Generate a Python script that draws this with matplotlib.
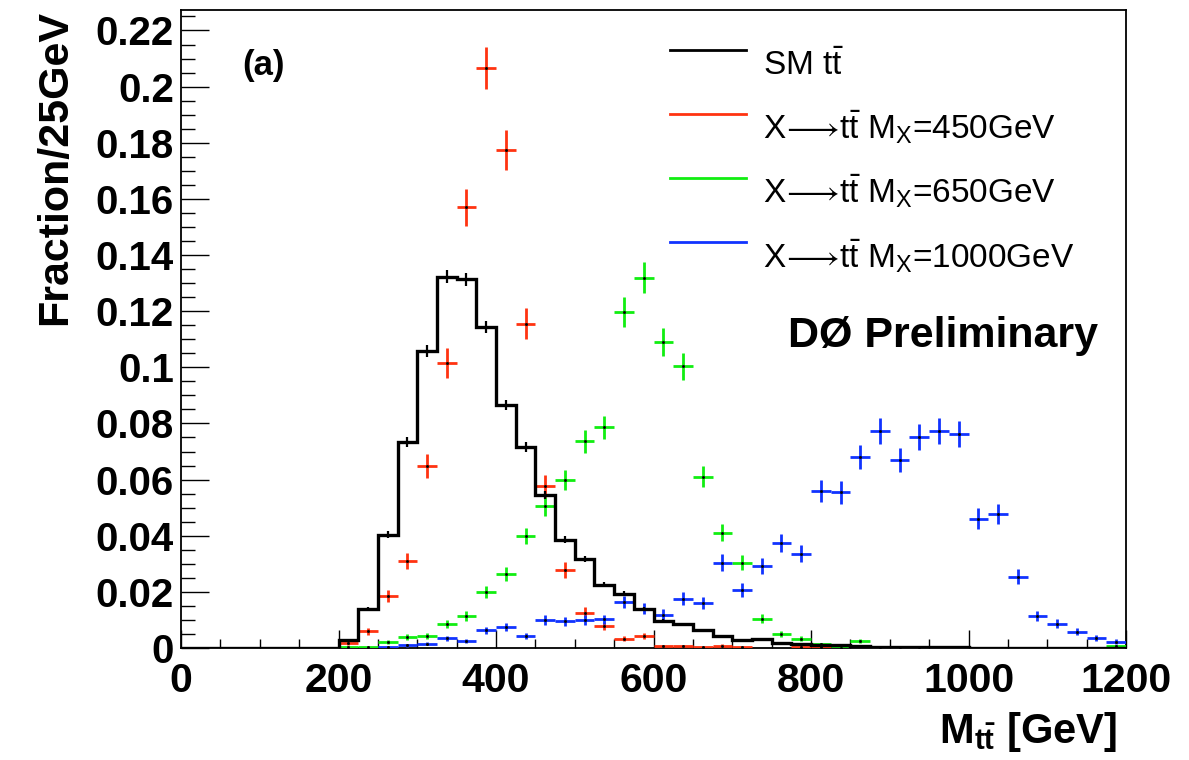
import numpy as np
import matplotlib
matplotlib.use("Agg")
import matplotlib.pyplot as plt
from matplotlib.ticker import MultipleLocator, FuncFormatter
from matplotlib.lines import Line2D

# ─────────────────────────────────────────────
# DATOS (fracción por bin de 25 GeV, 0-1200 GeV)
# ─────────────────────────────────────────────
bin_edges = np.arange(0, 1225, 25)

sm_tt = [0, 0, 0, 0, 0, 0, 0, 0,
         0.0030, 0.0140, 0.0404, 0.0734, 0.1059, 0.1323, 0.1314, 0.1142,
         0.0865, 0.0717, 0.0544, 0.0386, 0.0316, 0.0226, 0.0194, 0.0140,
         0.0096, 0.0084, 0.0063, 0.0042, 0.0030, 0.0033, 0.0019, 0.0015,
         0.0010, 0.0010, 0.0008, 0.0005, 0.0005, 0.0004, 0.0002, 0.0002,
         0.0001, 0.0001, 0.0001, 0.0001, 0, 0, 0, 0.0001]

x450 = [0, 0, 0, 0, 0, 0, 0, 0,
        0.0019, 0.0060, 0.0185, 0.0310, 0.0648, 0.1014, 0.1570, 0.2066,
        0.1774, 0.1156, 0.0576, 0.0277, 0.0126, 0.0078, 0.0033, 0.0043,
        0.0006, 0.0006, 0.0002, 0.0008, 0.0005, 0, 0, 0.0004,
        0.0005, 0, 0, 0, 0, 0, 0, 0,
        0, 0, 0, 0, 0, 0, 0, 0]

x650 = [0, 0, 0, 0, 0, 0, 0, 0,
        0.0002, 0.0002, 0.0021, 0.0039, 0.0043, 0.0087, 0.0114, 0.0200,
        0.0265, 0.0399, 0.0505, 0.0598, 0.0737, 0.0786, 0.1197, 0.1319,
        0.1090, 0.1004, 0.0610, 0.0410, 0.0304, 0.0105, 0.0051, 0.0033,
        0.0013, 0.0001, 0.0025, 0.0003, 0.0002, 0.0003, 0, 0,
        0, 0, 0, 0, 0, 0, 0, 0.0006]

x1000 = [0, 0, 0, 0, 0, 0, 0, 0,
         0, 0, 0.0003, 0.0010, 0.0016, 0.0034, 0.0025, 0.0063,
         0.0075, 0.0042, 0.0100, 0.0095, 0.0100, 0.0102, 0.0164, 0.0140,
         0.0119, 0.0176, 0.0162, 0.0304, 0.0206, 0.0292, 0.0374, 0.0336,
         0.0560, 0.0554, 0.0681, 0.0774, 0.0669, 0.0752, 0.0774, 0.0762,
         0.0461, 0.0477, 0.0253, 0.0114, 0.0086, 0.0058, 0.0036, 0.0023]

# eventos efectivos de cada muestra (error poissoniano sqrt(f/N))
n_sm, n_450, n_650, n_1000 = 25000, 3600, 4400, 3550

arrow = r"$\!{\longrightarrow}\!$"
labels = [r"SM t$\bar{\mathrm{t}}$",
          r"X" + arrow + r"t$\bar{\mathrm{t}}$ M$_{\mathrm{X}}$=450GeV",
          r"X" + arrow + r"t$\bar{\mathrm{t}}$ M$_{\mathrm{X}}$=650GeV",
          r"X" + arrow + r"t$\bar{\mathrm{t}}$ M$_{\mathrm{X}}$=1000GeV"]
colors = ["black", "#ff3311", "#11ee11", "#1133ff"]

# ─────────────────────────────────────────────
# ESTILO
# ─────────────────────────────────────────────
plt.rcParams["font.family"] = ["Liberation Sans", "DejaVu Sans"]
plt.rcParams["mathtext.fontset"] = "custom"
plt.rcParams["mathtext.rm"] = "Liberation Sans"
plt.rcParams["mathtext.it"] = "Liberation Sans:italic"
plt.rcParams["mathtext.bf"] = "Liberation Sans:bold"
plt.rcParams["mathtext.fallback"] = "stixsans"

fig = plt.figure(figsize=(11.89, 7.60), dpi=100)
ax = fig.add_axes([181 / 1189, 1 - 648 / 760, 945 / 1189, 638 / 760])

centers = 0.5 * (bin_edges[:-1] + bin_edges[1:])
half_w = 12.5

# SM: histograma en escalera
sm = np.array(sm_tt)
ax.stairs(sm, bin_edges, color="black", lw=2.4, zorder=5)
m = sm > 0
ax.errorbar(centers[m], sm[m], yerr=np.sqrt(sm[m] / n_sm), fmt="none",
            ecolor="black", elinewidth=1.6, capsize=0, zorder=6)

# señales: cruces de error
for vals, n, col in [(x450, n_450, colors[1]), (x650, n_650, colors[2]),
                     (x1000, n_1000, colors[3])]:
    v = np.array(vals)
    m = v > 0
    ax.errorbar(centers[m], v[m], xerr=half_w, yerr=np.sqrt(v[m] / n),
                fmt="none", ecolor=col, elinewidth=2.0, capsize=0, zorder=4)
    ax.plot(centers[m], v[m], ls="none", marker="s", ms=1.0, color="black", zorder=4)

ax.set_xlim(0, 1200)
ax.set_ylim(0, 0.2273)

ax.xaxis.set_major_locator(MultipleLocator(200))
ax.xaxis.set_minor_locator(MultipleLocator(50))
ax.yaxis.set_major_locator(MultipleLocator(0.02))
ax.yaxis.set_minor_locator(MultipleLocator(0.005))
ax.yaxis.set_major_formatter(FuncFormatter(lambda v, p: f"{v:.2f}".rstrip("0").rstrip(".") if v > 1e-9 else "0"))

ax.tick_params(axis="both", which="both", direction="in", top=False, right=False)
ax.tick_params(axis="y", which="major", length=20, width=1.0, pad=5, labelsize=29)
ax.tick_params(axis="y", which="minor", length=10, width=1.0)
ax.tick_params(axis="x", which="major", length=13, width=1.0, pad=10, labelsize=29.5)
ax.tick_params(axis="x", which="minor", length=6.5, width=1.0)
for lab in ax.get_xticklabels() + ax.get_yticklabels():
    lab.set_fontweight("bold")
for sp in ax.spines.values():
    sp.set_linewidth(1.3)

# leyenda manual (estilo ROOT)
rows_line = [0.937, 0.837, 0.737, 0.636]
rows_text = [0.898, 0.798, 0.698, 0.597]
for lab, col, yl, yt in zip(labels, colors, rows_line, rows_text):
    ax.add_line(Line2D([0.5175, 0.598], [yl, yl], transform=ax.transAxes,
                       color=col, lw=2.0))
    ax.text(0.616, yt, lab, transform=ax.transAxes, fontsize=24,
            ha="left", va="baseline")

ax.text(0.0645, 0.898, "(a)", transform=ax.transAxes, fontsize=25,
        fontweight="bold", ha="left", va="baseline")
ax.text(0.642, 0.472, "DØ Preliminary", transform=ax.transAxes, fontsize=31,
        fontweight="bold", ha="left", va="baseline")

fig.text(1117 / 1189, 1 - 743 / 760, r"M$_{\mathbf{t\bar{t}}}$ [GeV]",
         fontsize=30, fontweight="bold", ha="right", va="baseline")
fig.text(55 / 1189, 1 - 10 / 760, "Fraction/25GeV", fontsize=31,
         fontweight="bold", rotation=90, ha="center", va="top")

fig.savefig("out.png", dpi=100)
